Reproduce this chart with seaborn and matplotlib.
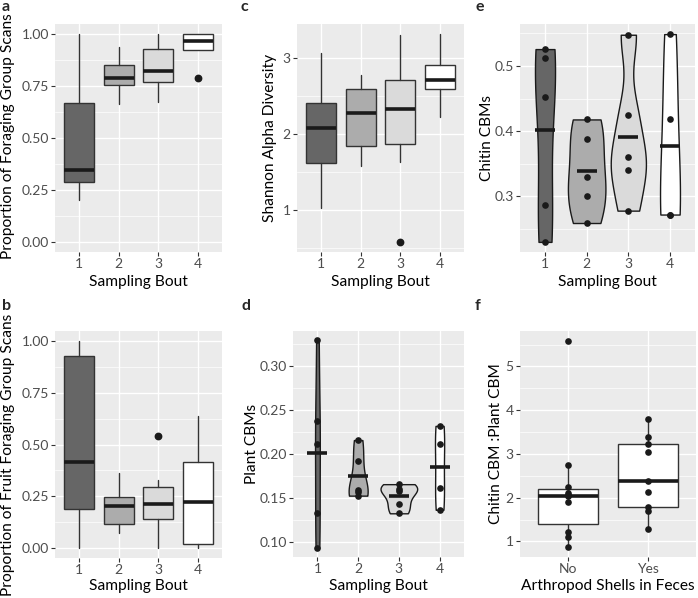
import numpy as np
import pandas as pd
import matplotlib
matplotlib.use("Agg")
import matplotlib.pyplot as plt
from matplotlib.ticker import AutoMinorLocator, MultipleLocator, FormatStrFormatter
import seaborn as sns

# ---- data ----
bouts = ["1", "2", "3", "4"]
greys = ["#666666", "#ACACAC", "#DADADA", "#FFFFFF"]

# a: proportion of foraging group scans (box summaries)
forage_lo = [0.20, 0.666, 0.673, 0.924]
forage_q1 = [0.287, 0.756, 0.771, 0.924]
forage_med = [0.344, 0.790, 0.823, 0.966]
forage_q3 = [0.669, 0.853, 0.927, 1.0]
forage_hi = [1.0, 0.939, 1.0, 1.0]
forage_out = [[], [], [], [0.790]]

# b: proportion of fruit foraging group scans
fruit_lo = [0.0, 0.071, 0.0, 0.0]
fruit_q1 = [0.187, 0.116, 0.139, 0.019]
fruit_med = [0.415, 0.200, 0.213, 0.221]
fruit_q3 = [0.927, 0.244, 0.292, 0.414]
fruit_hi = [1.0, 0.362, 0.326, 0.640]
fruit_out = [[], [], [0.543], []]

# c: shannon alpha diversity
shannon_lo = [1.022, 1.581, 1.624, 2.218]
shannon_q1 = [1.616, 1.847, 1.869, 2.590]
shannon_med = [2.083, 2.271, 2.323, 2.712]
shannon_q3 = [2.406, 2.594, 2.707, 2.900]
shannon_hi = [3.066, 2.769, 3.297, 3.306]
shannon_out = [[], [], [0.585], []]

# d: plant CBMs per bout
plant_1 = [0.329, 0.238, 0.211, 0.133, 0.094]
plant_2 = [0.216, 0.192, 0.159, 0.157, 0.153]
plant_3 = [0.166, 0.161, 0.158, 0.144, 0.133]
plant_4 = [0.232, 0.211, 0.162, 0.137]

# e: chitin CBMs per bout
chitin_1 = [0.526, 0.513, 0.452, 0.287, 0.230]
chitin_2 = [0.418, 0.388, 0.329, 0.300, 0.259]
chitin_3 = [0.548, 0.425, 0.360, 0.341, 0.278]
chitin_4 = [0.549, 0.418, 0.272, 0.272]

# f: chitin:plant CBM ratio vs arthropod shells in feces
shells = ["No", "Yes"]
ratio_no = [0.879, 1.106, 1.22, 1.902, 2.03, 2.06, 2.107, 2.234, 2.75, 5.576]
ratio_yes = [1.295, 1.69, 1.788, 2.136, 2.371, 3.038, 3.22, 3.394, 3.81]

W, H = 698, 598
DARK = "#333333"
INK = "#1a1a1a"

sns.set_theme(style="darkgrid", rc={
    "axes.facecolor": "#EBEBEB",
    "grid.color": "white",
    "xtick.bottom": True,
    "ytick.left": True,
    "xtick.major.size": 3,
    "ytick.major.size": 3,
    "xtick.major.width": 0.8,
    "ytick.major.width": 0.8,
    "xtick.color": DARK,
    "ytick.color": DARK,
    "xtick.labelcolor": "#4D4D4D",
    "ytick.labelcolor": "#4D4D4D",
    "xtick.major.pad": 1.5,
    "ytick.major.pad": 1.5,
    "xtick.labelsize": 10,
    "ytick.labelsize": 10,
    "axes.labelsize": 11.2,
    "axes.labelcolor": "black",
})
plt.rcParams["font.family"] = ["Lato", "DejaVu Sans"]

fig = plt.figure(figsize=(W / 100, H / 100), dpi=100)


def add_ax(left, top, right, bottom):
    return fig.add_axes([left / W, 1 - bottom / H, (right - left) / W, (bottom - top) / H])


def style_ax(ax, ylim, step, fmt, xlim, xlab, ylab, ylab_x, xlab_y, cx, cy):
    ax.set_axisbelow(True)
    ax.set_xlim(*xlim)
    ax.set_ylim(*ylim)
    ax.yaxis.set_major_locator(MultipleLocator(step))
    ax.yaxis.set_major_formatter(FormatStrFormatter(fmt))
    ax.yaxis.set_minor_locator(AutoMinorLocator(2))
    ax.tick_params(axis="y", which="minor", length=0)
    ax.grid(which="major", color="white", linewidth=1.0)
    ax.grid(which="minor", axis="y", color="white", linewidth=0.5)
    ax.xaxis.grid(True, which="major", color="white", linewidth=1.0)
    for s in ax.spines.values():
        s.set_visible(False)
    ax.set_xlabel(xlab)
    ax.set_ylabel(ylab)
    ax.yaxis.set_label_coords(ylab_x / W, 1 - cy / H, transform=fig.transFigure)
    ax.xaxis.set_label_coords(cx / W, 1 - xlab_y / H, transform=fig.transFigure)


def box_panel(ax, lo, q1, med, q3, hi, out):
    stats = [dict(whislo=a, q1=b, med=c, q3=d, whishi=e, fliers=f)
             for a, b, c, d, e, f in zip(lo, q1, med, q3, hi, out)]
    bp = ax.bxp(stats, positions=range(len(stats)), widths=0.75, patch_artist=True,
                showcaps=False,
                boxprops=dict(edgecolor=DARK, linewidth=1.0),
                medianprops=dict(color=INK, linewidth=2.6),
                whiskerprops=dict(color=DARK, linewidth=1.0),
                flierprops=dict(marker="o", markerfacecolor=INK, markeredgecolor=INK,
                                markersize=4.6))
    for patch, c in zip(bp["boxes"], greys):
        patch.set_facecolor(c)
    ax.set_xticks(range(len(stats)))
    ax.set_xticklabels(bouts)


def nrd0(kde):
    # R's default bandwidth (bw.nrd0), expressed as a gaussian_kde factor
    x = np.asarray(kde.dataset).ravel()
    sd = x.std(ddof=1)
    q75, q25 = np.percentile(x, [75, 25])
    return 0.9 * min(sd, (q75 - q25) / 1.34) * len(x) ** -0.2 / sd


def violin_panel(ax, groups):
    df = pd.DataFrame({
        "bout": np.repeat(bouts, [len(g) for g in groups]),
        "val": np.concatenate(groups),
    })
    sns.violinplot(data=df, x="bout", y="val", hue="bout", palette=greys, legend=False,
                   inner=None, cut=0, width=0.9, density_norm="area", common_norm=True,
                   bw_method=nrd0, saturation=1, linecolor=INK, linewidth=1.0, ax=ax)
    sns.stripplot(data=df, x="bout", y="val", color=INK, size=4.8, jitter=False, ax=ax)
    sns.pointplot(data=df, x="bout", y="val", estimator="mean", errorbar=None, color=INK,
                  marker="_", linestyle="none", markersize=14.5, markeredgewidth=2.6, ax=ax)


# a
ax = add_ax(55, 24, 222, 252)
box_panel(ax, forage_lo, forage_q1, forage_med, forage_q3, forage_hi, forage_out)
style_ax(ax, (-0.05, 1.05), 0.25, "%.2f", (-0.6, 3.6), "Sampling Bout",
         "Proportion of Foraging Group Scans", 15, 275, 138.5, 136)

# b
ax = add_ax(55, 331, 222, 558)
box_panel(ax, fruit_lo, fruit_q1, fruit_med, fruit_q3, fruit_hi, fruit_out)
style_ax(ax, (-0.05, 1.05), 0.25, "%.2f", (-0.6, 3.6), "Sampling Bout",
         "Proportion of Fruit Foraging Group Scans", 15, 579, 138.5, 455)

# c
ax = add_ax(297, 24, 464, 252)
box_panel(ax, shannon_lo, shannon_q1, shannon_med, shannon_q3, shannon_hi, shannon_out)
style_ax(ax, (0.449, 3.442), 1, "%d", (-0.6, 3.6), "Sampling Bout",
         "Shannon Alpha Diversity", 277, 275, 380.5, 138)

# d
ax = add_ax(293, 331, 464, 557)
violin_panel(ax, [plant_1, plant_2, plant_3, plant_4])
style_ax(ax, (0.0835, 0.3395), 0.05, "%.2f", (-0.6, 3.6), "Sampling Bout",
         "Plant CBMs", 259, 579, 378.5, 444)

# e
ax = add_ax(520, 24, 695, 252)
violin_panel(ax, [chitin_1, chitin_2, chitin_3, chitin_4])
style_ax(ax, (0.2145, 0.5645), 0.1, "%.1f", (-0.6, 3.6), "Sampling Bout",
         "Chitin CBMs", 494, 275, 607.5, 138)

# f
ax = add_ax(520, 331, 696, 557)
df_f = pd.DataFrame({
    "shells": np.repeat(shells, [len(ratio_no), len(ratio_yes)]),
    "ratio": np.concatenate([ratio_no, ratio_yes]),
})
sns.boxplot(data=df_f, x="shells", y="ratio", color="white", width=0.75, saturation=1,
            linecolor=DARK, linewidth=1.0, showfliers=False, showcaps=False,
            medianprops=dict(color=INK, linewidth=2.6), ax=ax)
sns.stripplot(data=df_f, x="shells", y="ratio", color=INK, size=4.8, jitter=False, ax=ax)
style_ax(ax, (0.644, 5.811), 1, "%d", (-0.6, 1.6), "Arthropod Shells in Feces",
         "Chitin CBM :Plant CBM", 503, 579, 608, 444)

# panel letters
for letter, x, y in [("a", 2, 0), ("c", 241, 0), ("e", 475, 0),
                     ("b", 2, 299), ("d", 242, 299), ("f", 475, 299)]:
    fig.text(x / W, 1 - y / H, letter, fontsize=11.5, fontweight="bold", ha="left", va="top")

fig.savefig("out.png", dpi=100)
